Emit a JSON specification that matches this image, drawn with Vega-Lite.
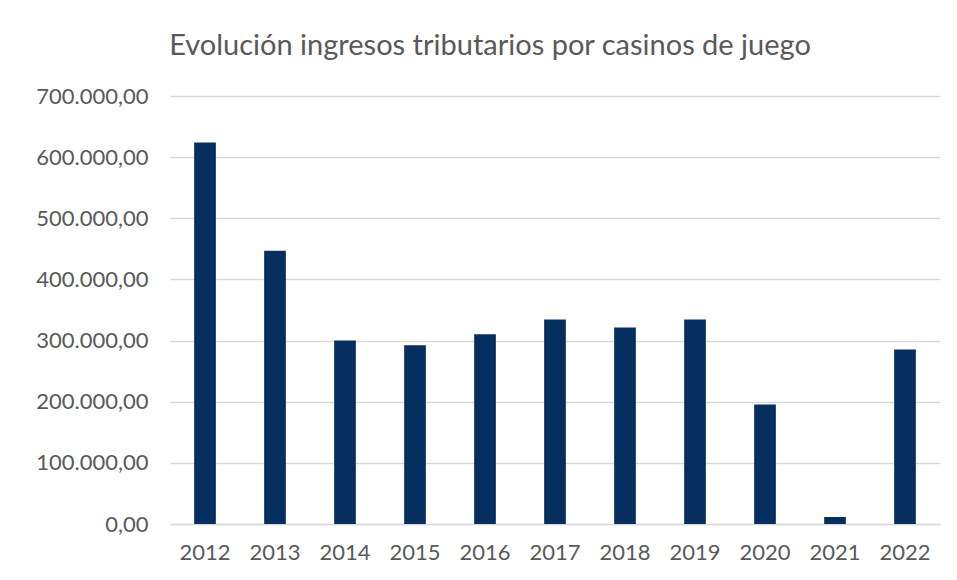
{
  "$schema": "https://vega.github.io/schema/vega-lite/v6.json",
  "width": 770,
  "height": 428,
  "autosize": {"type": "none"},
  "padding": {"left": 170, "top": 96, "right": 17, "bottom": 56},
  "background": "white",
  "title": {
    "text": "Evolución ingresos tributarios por casinos de juego",
    "anchor": "middle",
    "dx": -65,
    "offset": 24,
    "font": "Lato",
    "fontSize": 29,
    "fontWeight": "normal",
    "color": "#595959"
  },
  "config": {
    "locale": {
      "number": {"decimal": ",", "thousands": ".", "grouping": [3], "currency": ["", " €"]}
    },
    "view": {"stroke": null},
    "font": "Lato"
  },
  "data": {
    "values": [
      {"year": "2012", "value": 624000},
      {"year": "2013", "value": 447000},
      {"year": "2014", "value": 300000},
      {"year": "2015", "value": 292500},
      {"year": "2016", "value": 310500},
      {"year": "2017", "value": 334500},
      {"year": "2018", "value": 321400},
      {"year": "2019", "value": 334500},
      {"year": "2020", "value": 195600},
      {"year": "2021", "value": 11400},
      {"year": "2022", "value": 285400}
    ]
  },
  "mark": {"type": "bar", "color": "#062e5f"},
  "encoding": {
    "x": {
      "field": "year",
      "type": "nominal",
      "title": null,
      "scale": {"paddingInner": 0.69, "paddingOuter": 0.345},
      "axis": {
        "labelAngle": 0,
        "labelFont": "Lato",
        "labelFontSize": 22,
        "labelColor": "#595959",
        "labelPadding": 18,
        "ticks": false,
        "domain": true,
        "domainColor": "#d9d9d9",
        "domainWidth": 1.5
      }
    },
    "y": {
      "field": "value",
      "type": "quantitative",
      "title": null,
      "scale": {"domain": [0, 700000]},
      "axis": {
        "values": [0, 100000, 200000, 300000, 400000, 500000, 600000, 700000],
        "format": ",.2f",
        "labelFont": "Lato",
        "labelFontSize": 22,
        "labelColor": "#595959",
        "labelPadding": 22,
        "ticks": false,
        "domain": false,
        "grid": true,
        "gridColor": "#d9d9d9",
        "gridWidth": 1.5
      }
    }
  }
}
